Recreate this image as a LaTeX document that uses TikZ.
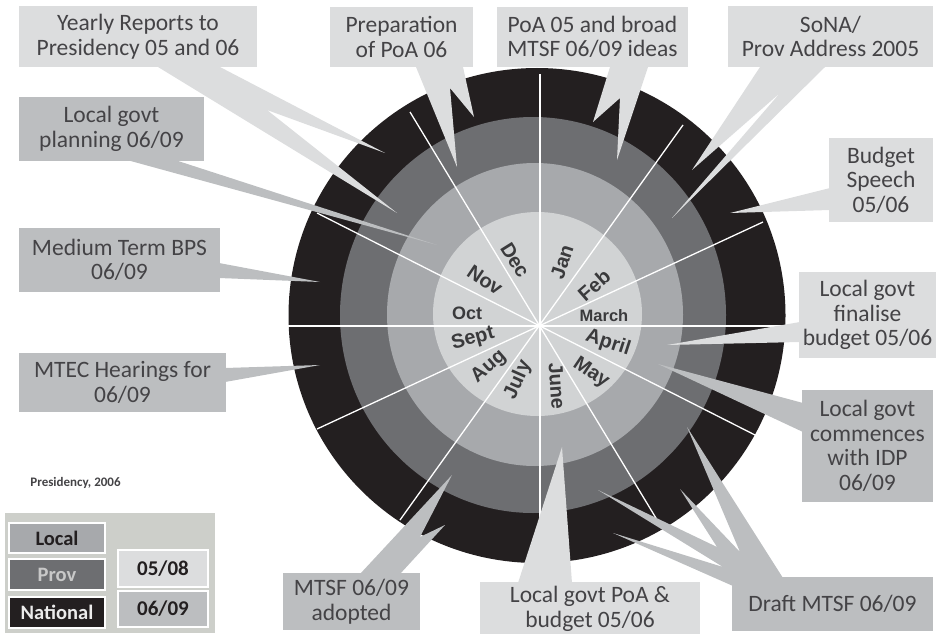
\documentclass[tikz,border=0pt]{standalone}
\usepackage{fontspec}
\setmainfont{Carlito}
\newfontfamily\monthfont{Liberation Sans}
\definecolor{natc}{RGB}{35,31,32}
\definecolor{provc}{RGB}{109,110,113}
\definecolor{locc}{RGB}{167,169,172}
\definecolor{ctrc}{RGB}{209,211,212}
\definecolor{boxa}{RGB}{220,221,222}
\definecolor{boxb}{RGB}{188,190,192}
\definecolor{txtc}{RGB}{68,67,70}
\definecolor{monc}{RGB}{58,58,60}
\definecolor{legbg}{RGB}{205,207,202}
\tikzset{
  cbox/.style={fill=boxa, text=txtc, align=center, inner sep=0pt,
    font=\fontsize{23.5}{24.5}\selectfont},
  cboxb/.style={cbox, fill=boxb},
  month/.style={text=monc, inner sep=0pt, font=\monthfont\bfseries\fontsize{20}{20}\selectfont},
  spoke/.style={draw=white, line width=1.3pt},
  legbox/.style={draw=white, line width=1.3pt, inner sep=0pt, minimum width=96, minimum height=30,
    font=\bfseries\fontsize{20.5}{21}\selectfont},
  yearbox/.style={draw=white, line width=1.3pt, inner sep=0pt, minimum width=90, minimum height=36,
    font=\bfseries\fontsize{21}{22}\selectfont, text=natc}
}
\begin{document}
\begin{tikzpicture}[x=1pt,y=-1pt]
\useasboundingbox (0,0) rectangle (942,634);
% rings
\fill[natc] (537,315.5) ellipse [x radius=248.5, y radius=247.5];
\fill[provc] (533,315) ellipse [x radius=193, y radius=198];
\fill[locc] (535,314.5) ellipse [x radius=148, y radius=151.5];
\fill[ctrc] (537.5,314) ellipse [x radius=104.5, y radius=102];
% spokes
\coordinate (c) at (540,326);
\draw[spoke, line width=2.4pt] (288,326) -- (787,326);
\draw[spoke, line width=2pt] (540,74) -- (540,560);
\draw[spoke] (763,222) -- (317,429);
\draw[spoke] (683,125) -- (400,520);
\draw[spoke] (410,112) -- (662,528);
\draw[spoke] (317,213) -- (755,435);
% callout tails
\fill[boxa] (158,67) -- (397,213) -- (267,110) -- (385,153) -- (220,67) -- cycle;
\fill[boxa] (416,67) -- (457,167) -- (450,88) -- (474,117) -- (463,67) -- cycle;
\fill[boxa] (610,67) -- (593,122) -- (620,98) -- (617,160) -- (648,67) -- cycle;
\fill[boxa] (760,67) -- (692,170) -- (780,93) -- (672,218) -- (825,67) -- cycle;
\fill[boxa] (830,188) -- (730,213) -- (830,210) -- cycle;
\fill[boxa] (800,322) -- (667,345) -- (800,342) -- cycle;
\fill[boxb] (803,403) -- (658,364) -- (803,432) -- cycle;
\fill[boxb] (783,578) -- (687,427) -- (740,552) -- (680,489) -- (717,547) -- (598,490) -- (723,567) -- (613,533) -- (733,586) -- cycle;
\fill[boxa] (518,583) -- (562,447) -- (572,583) -- cycle;
\fill[boxb] (360,574) -- (452,475) -- (420,537) -- (445,525) -- (400,574) -- cycle;
\fill[boxb] (225,368) -- (320,365) -- (225,382) -- cycle;
\fill[boxb] (219,263) -- (320,282) -- (219,278) -- cycle;
\fill[boxb] (127,160) -- (437,245) -- (175,160) -- cycle;
% callout boxes
\node[cbox, minimum width=238, minimum height=61] (yearly) at (138,36.5) {Yearly Reports to\\Presidency 05 and 06};
\node[cbox, minimum width=143, minimum height=60] (prep) at (401.5,37) {Preparation\\of PoA 06};
\node[cbox, minimum width=191, minimum height=60] (poa) at (592.5,37) {PoA 05 and broad\\MTSF 06/09 ideas};
\node[cbox, minimum width=205, minimum height=61] (sona) at (830.5,36.5) {SoNA/\\Prov Address 2005};
\node[cbox, minimum width=104, minimum height=84] (budget) at (881,180) {Budget\\Speech\\05/06};
\node[cbox, minimum width=137, minimum height=86] (final) at (867.5,315) {Local govt\\finalise\\budget 05/06};
\node[cboxb, minimum width=131, minimum height=112] (idp) at (867.5,446) {Local govt\\commences\\with IDP\\06/09};
\node[cboxb, minimum width=201, minimum height=54] (draft) at (832.5,604) {Draft MTSF 06/09};
\node[cbox, minimum width=220, minimum height=54] (lpoa) at (590,609) {Local govt PoA \&\\budget 05/06};
\node[cboxb, minimum width=137, minimum height=57] (adopt) at (351.5,601.5) {MTSF 06/09\\adopted};
\node[cboxb, minimum width=207, minimum height=59] (mtec) at (122.5,382.5) {MTEC Hearings for\\06/09};
\node[cboxb, minimum width=201, minimum height=64] (bps) at (119.5,260) {Medium Term BPS\\06/09};
\node[cboxb, minimum width=185, minimum height=64] (lplan) at (111.5,129) {Local govt\\planning 06/09};
% months
\node[month, rotate=72] (jan) at (562,262) {Jan};
\node[month, rotate=41] (feb) at (594,285) {Feb};
\node[month, font=\monthfont\bfseries\fontsize{16.5}{17}\selectfont] (mar) at (604,316) {March};
\node[month, rotate=-18] (apr) at (608,343) {April};
\node[month, rotate=-34] (may) at (591,373) {May};
\node[month, rotate=-86] (jun) at (557,386) {June};
\node[month, rotate=66] (jul) at (518,380) {July};
\node[month, rotate=41] (aug) at (489,367) {Aug};
\node[month, rotate=15] (sep) at (473,339) {Sept};
\node[month, font=\monthfont\bfseries\fontsize{18}{18}\selectfont] (oct) at (467,313) {Oct};
\node[month, rotate=-34] (nov) at (485,280) {Nov};
\node[month, rotate=-58] (dec) at (515,260) {Dec};
% source
\node[text=txtc, inner sep=0pt, font=\bfseries\fontsize{13}{14}\selectfont] (src) at (75.5,483) {Presidency, 2006};
% legend
\fill[legbg] (5,513) rectangle (215,633);
\node[legbox, fill=locc, text=natc] (lloc) at (57,538) {Local};
\node[legbox, fill=provc, text={rgb,255:red,200;green,200;blue,200}, minimum height=31] (lprov) at (57,574.5) {Prov};
\node[legbox, fill=natc, text={rgb,255:red,235;green,235;blue,235}, minimum height=31] (lnat) at (57,612.5) {National};
\node[yearbox, fill=boxa, minimum height=37] (y0508) at (163,568.5) {05/08};
\node[yearbox, fill=boxb] (y0609) at (163,609) {06/09};
\end{tikzpicture}
\end{document}
